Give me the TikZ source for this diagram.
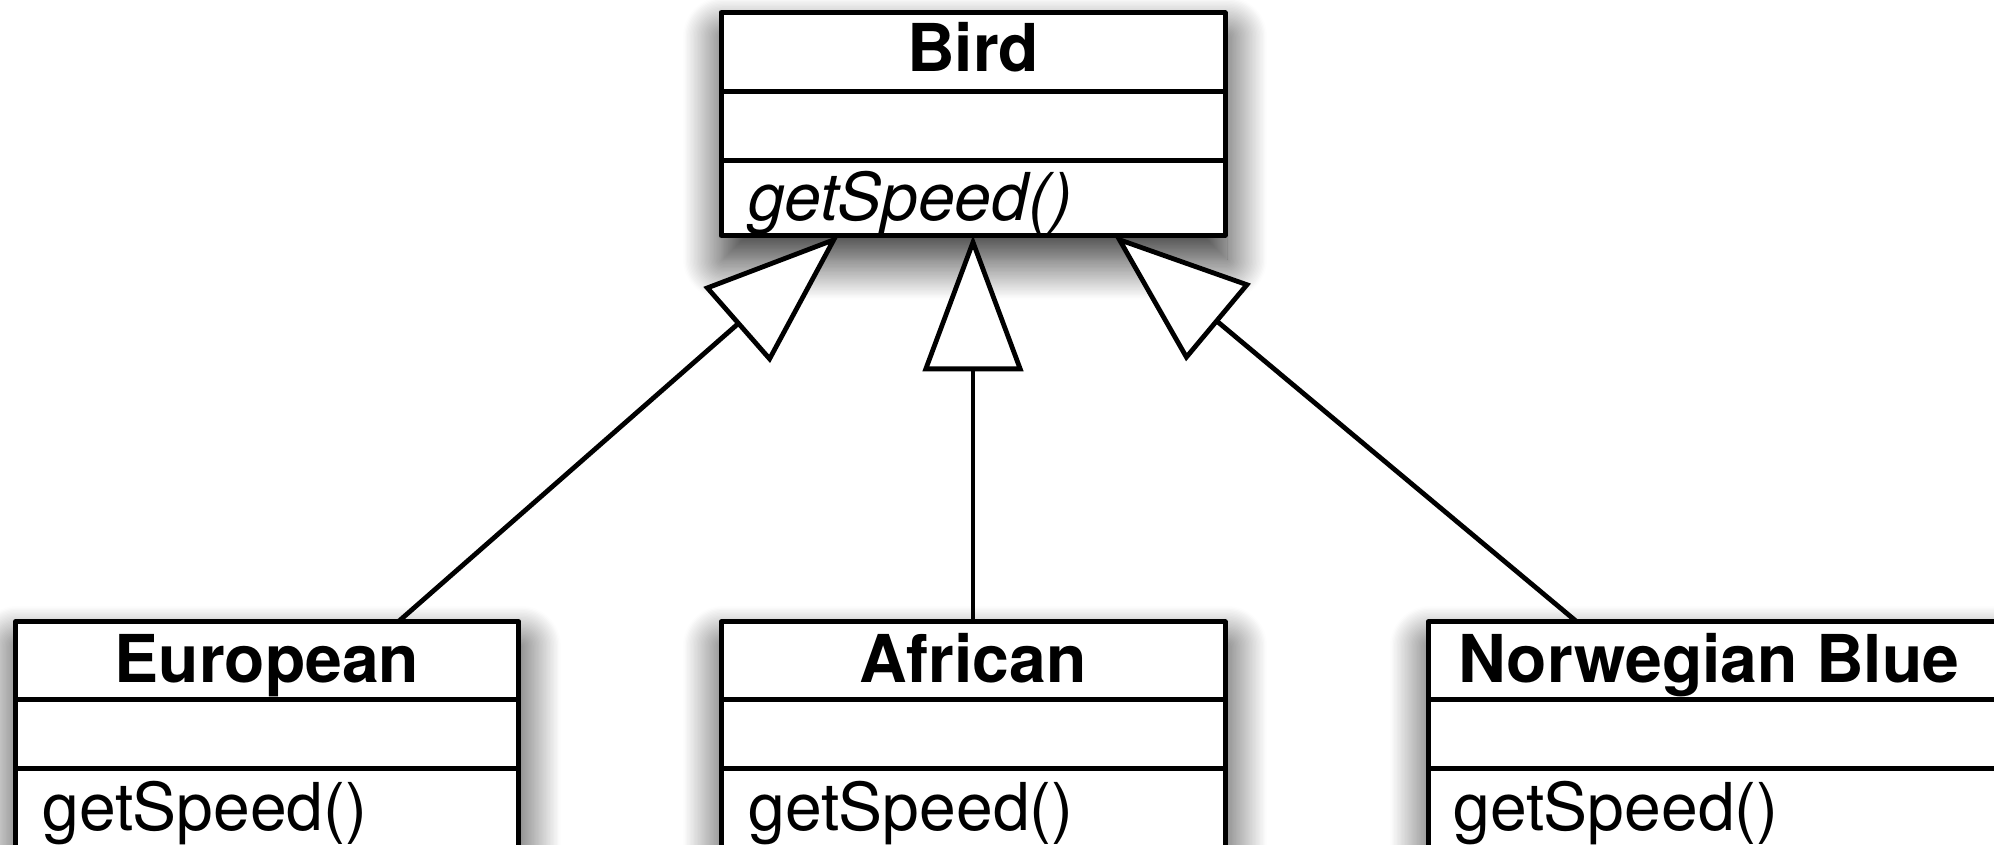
\documentclass[tikz,border=0pt]{standalone}
\usepackage{fontspec}
\setmainfont{TeX Gyre Heros}
\usetikzlibrary{arrows.meta,shadows.blur,calc}
\begin{document}
\begin{tikzpicture}[x=0.5pt,y=-0.5pt,
  classbox/.style={draw=black, line width=2.5pt, line join=round, fill=white, anchor=north west,
    inner sep=0pt, outer sep=0pt,
    blur shadow={shadow xshift=1pt, shadow yshift=-12pt, shadow blur radius=20pt,
      shadow blur steps=30, shadow opacity=85}},
  divider/.style={line width=2.5pt},
  classname/.style={font=\fontsize{33}{36}\selectfont\bfseries, inner sep=0pt, anchor=base},
  method/.style={font=\fontsize{33}{36}\selectfont, inner sep=0pt, anchor=base west},
  absmethod/.style={font=\fontsize{33}{36}\selectfont\itshape, inner sep=0pt, anchor=base west},
  inherit/.style={line width=2.4pt, -{Triangle[fill=white, length=68pt, width=50pt]}}]
\useasboundingbox (0,0) rectangle (1994,845);
\clip (0,0) rectangle (1994,845);

% class boxes
\node[classbox, minimum width=252pt, minimum height=111.3pt] (bird) at (721,12.7) {};
\node[classbox, minimum width=251.8pt, minimum height=113pt] (european) at (15.3,621.9) {};
\node[classbox, minimum width=252pt, minimum height=113pt] (african) at (721,621.9) {};
\node[classbox, minimum width=291pt, minimum height=113pt] (norwegian) at (1428,621.9) {};

% compartments
\draw[divider] ($(bird.north west)+(0,78.9)$) -- ($(bird.north east)+(0,78.9)$);
\draw[divider] ($(bird.north west)+(0,147.5)$) -- ($(bird.north east)+(0,147.5)$);
\foreach \c in {european,african,norwegian}{
  \draw[divider] ($(\c.north west)+(0,77.5)$) -- ($(\c.north east)+(0,77.5)$);
  \draw[divider] ($(\c.north west)+(0,146.2)$) -- ($(\c.north east)+(0,146.2)$);
}

% texts
\node[classname] (birdname) at (973,72) {Bird};
\node[absmethod] (birdop) at (748,221) {getSpeed()};
\node[classname] (europeanname) at (267,682) {European};
\node[method] (europeanop) at (42,830) {getSpeed()};
\node[classname] (africanname) at (973,682) {African};
\node[method] (africanop) at (748,830) {getSpeed()};
\node[classname, anchor=base west] (norwegianname) at (1458,682) {Norwegian Blue};
\node[method] (norwegianop) at (1453,830) {getSpeed()};

% generalisations
\draw[inherit] ($(european.north west)!0.76!(european.north east)$) -- ($(bird.south west)!0.234!(bird.south east)$);
\draw[inherit] (african.north) -- (bird.south);
\draw[inherit] ($(norwegian.north west)!0.256!(norwegian.north east)$) -- ($(bird.south west)!0.78!(bird.south east)$);
\end{tikzpicture}
\end{document}
